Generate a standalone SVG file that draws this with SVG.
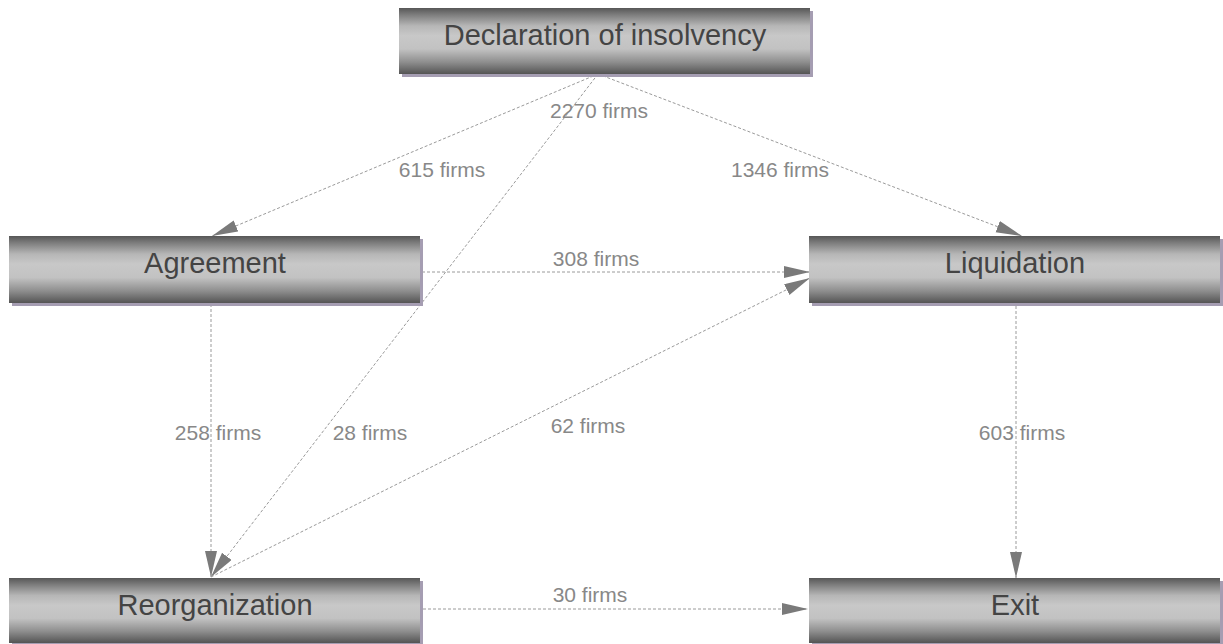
<svg xmlns="http://www.w3.org/2000/svg" width="1223" height="644" viewBox="0 0 1223 644">
  <defs>
    <linearGradient id="tube" x1="0" y1="0" x2="0" y2="1">
      <stop offset="0" stop-color="#575757"/>
      <stop offset="0.1" stop-color="#7c7c7c"/>
      <stop offset="0.27" stop-color="#b6b6b6"/>
      <stop offset="0.42" stop-color="#c8c8c8"/>
      <stop offset="0.62" stop-color="#c2c2c2"/>
      <stop offset="0.82" stop-color="#8e8e8e"/>
      <stop offset="1" stop-color="#545454"/>
    </linearGradient>
    <marker id="arrow" markerUnits="userSpaceOnUse" markerWidth="28" markerHeight="14" refX="26" refY="6" orient="auto">
      <path d="M0,0 L26,6 L0,12 Z" fill="#7a7a7a"/>
    </marker>
    <style>
      .shadow { fill: #a59db2; }
      .box { fill: url(#tube); }
      .title { font-family: "Liberation Sans", Arial, sans-serif; font-size: 29px; fill: #444444; text-anchor: middle; }
      .edge { fill: none; stroke: #9a9a9a; stroke-width: 1; stroke-dasharray: 3 2; marker-end: url(#arrow); }
      .count { font-family: "Liberation Sans", Arial, sans-serif; font-size: 21px; fill: #888888; text-anchor: middle; }
    </style>
  </defs>

  <rect width="1223" height="644" fill="#ffffff"/>

  <!-- flows between the stages -->
  <g id="connectors">
    <line class="edge" x1="598" y1="74" x2="212" y2="236"/>
    <line class="edge" x1="598" y1="74" x2="1022" y2="236"/>
    <line class="edge" x1="598" y1="74" x2="211" y2="577"/>
    <line class="edge" x1="422" y1="272" x2="810" y2="272"/>
    <line class="edge" x1="211" y1="304" x2="211" y2="577"/>
    <line class="edge" x1="211" y1="577" x2="810" y2="278"/>
    <line class="edge" x1="1016" y1="306" x2="1016" y2="578"/>
    <line class="edge" x1="423" y1="609" x2="808" y2="609"/>
  </g>

  <!-- flow counts -->
  <g id="labels">
    <text class="count" x="599" y="118">2270 firms</text>
    <text class="count" x="442" y="177">615 firms</text>
    <text class="count" x="780" y="177">1346 firms</text>
    <text class="count" x="596" y="266">308 firms</text>
    <text class="count" x="218" y="440">258 firms</text>
    <text class="count" x="370" y="440">28 firms</text>
    <text class="count" x="588" y="433">62 firms</text>
    <text class="count" x="1022" y="440">603 firms</text>
    <text class="count" x="590" y="602">30 firms</text>
  </g>

  <g id="declaration">
    <rect class="shadow" x="402" y="11" width="411" height="66"/>
    <rect class="box" x="399" y="8" width="411" height="66"/>
    <text class="title" x="605" y="45">Declaration of insolvency</text>
  </g>

  <g id="agreement">
    <rect class="shadow" x="12" y="239" width="411" height="67"/>
    <rect class="box" x="9" y="236" width="411" height="67"/>
    <text class="title" x="215" y="273">Agreement</text>
  </g>

  <g id="liquidation">
    <rect class="shadow" x="812" y="239" width="411" height="67"/>
    <rect class="box" x="809" y="236" width="411" height="67"/>
    <text class="title" x="1015" y="273">Liquidation</text>
  </g>

  <g id="reorganization">
    <rect class="shadow" x="12" y="581" width="411" height="66"/>
    <rect class="box" x="9" y="578" width="411" height="65"/>
    <text class="title" x="215" y="615">Reorganization</text>
  </g>

  <g id="exit">
    <rect class="shadow" x="812" y="581" width="411" height="66"/>
    <rect class="box" x="809" y="578" width="411" height="65"/>
    <text class="title" x="1015" y="615">Exit</text>
  </g>
</svg>
